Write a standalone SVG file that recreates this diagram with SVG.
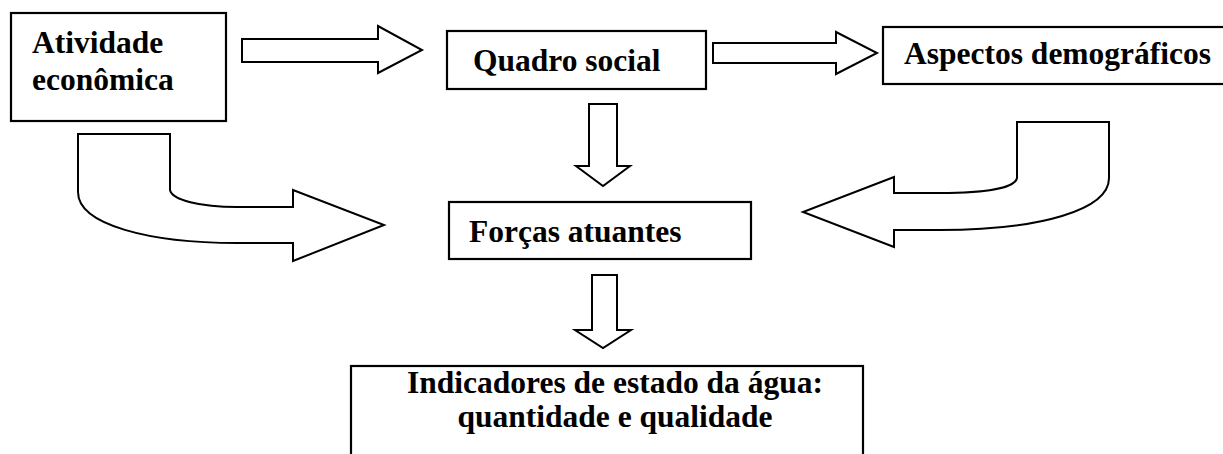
<svg xmlns="http://www.w3.org/2000/svg" width="1223" height="454" viewBox="0 0 1223 454">
<style>
.box{fill:#fff;stroke:#000;stroke-width:2.2}
.arr{fill:#fff;stroke:#000;stroke-width:2;stroke-linejoin:miter}
text{font-family:'Liberation Serif','Times New Roman',Tinos,'DejaVu Serif',serif;font-weight:700;font-size:31.5px;fill:#000}
</style>
<rect width="1223" height="454" fill="#fff"/>
<g id="connectors">
<path class="arr" d="M242,39 H378 V26 L422,50 L378,73 V62 H242 Z"/>
<path class="arr" d="M713,43 H836 V32 L877,53 L836,74 V63 H713 Z"/>
<path class="arr" d="M589,104 H617 V166 H630 L603,186 L576,166 H589 Z"/>
<path class="arr" d="M592,275 H617 V330 H631 L603,348 L575,330 H592 Z"/>
<path class="arr" d="M78,134 H170 V190 C172,200 200,207 237,207 H293 V190 L384,225 L293,261 V243 H237 C150,243 78,225 78,192 Z"/>
<path class="arr" d="M1109,122 H1017 V178 C1015,188 985,193 940,193 H894 V177 L803,212 L894,247 V230 H940 C1040,230 1109,210 1109,178 Z"/>
</g>
<g id="node-atividade">
<rect class="box" x="11" y="13" width="215" height="108"/>
<text x="32" y="53" font-family="Liberation Serif, serif">Atividade</text>
<text x="32" y="90" font-family="Liberation Serif, serif">econômica</text>
</g>
<g id="node-quadro">
<rect class="box" x="447" y="31" width="259" height="58"/>
<text x="473" y="71" font-family="Liberation Serif, serif">Quadro social</text>
</g>
<g id="node-aspectos">
<rect class="box" x="883" y="27" width="345" height="57"/>
<text x="904" y="64" font-family="Liberation Serif, serif">Aspectos demográficos</text>
</g>
<g id="node-forcas">
<rect class="box" x="449" y="202" width="302" height="57"/>
<text x="469" y="242" font-family="Liberation Serif, serif">Forças atuantes</text>
</g>
<g id="node-indicadores">
<rect class="box" x="351" y="366" width="512" height="100"/>
<text x="615" y="393" text-anchor="middle" font-family="Liberation Serif, serif">Indicadores de estado da água:</text>
<text x="615" y="427" text-anchor="middle" font-family="Liberation Serif, serif">quantidade e qualidade</text>
</g>
</svg>
